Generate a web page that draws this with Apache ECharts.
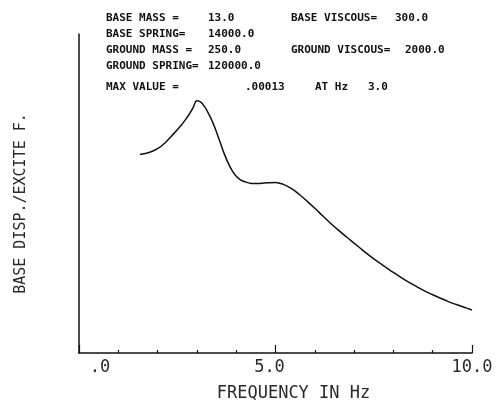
<!DOCTYPE html>
<html>
<head>
<meta charset="utf-8">
<script src="https://cdn.jsdelivr.net/npm/echarts@6/dist/echarts.min.js"></script>
<style>
  html, body { margin: 0; padding: 0; background: #fff; }
  #chart { width: 500px; height: 401px; }
</style>
</head>
<body>
<div id="chart"></div>
<script>
// Frequency response of base displacement per unit excitation force
const frequencyHz = [1.55, 1.8, 2.0, 2.2, 2.4, 2.6, 2.7, 2.8, 2.9, 3.0, 3.1, 3.2, 3.3, 3.4, 3.5,
  3.6, 3.7, 3.8, 3.9, 4.0, 4.1, 4.2,
  4.4, 4.6, 4.8, 5.0, 5.2, 5.4, 5.6, 5.8, 6.0, 6.2, 6.4, 6.6, 6.8, 7.0, 7.2, 7.4, 7.6,
  7.8, 8.0, 8.2, 8.4, 8.6, 8.8, 9.0, 9.2, 9.4, 9.6, 9.8, 10.0];
const displacement = [1.023e-4, 1.035e-4, 1.053e-4, 1.085e-4, 1.128e-4, 1.174e-4, 1.200e-4, 1.229e-4,
  1.263e-4, 1.300e-4, 1.293e-4, 1.268e-4, 1.232e-4, 1.190e-4, 1.138e-4,
  1.081e-4, 1.025e-4, 0.977e-4, 0.939e-4, 0.911e-4, 0.894e-4, 0.884e-4,
  0.874e-4, 0.874e-4, 0.877e-4, 0.879e-4, 0.869e-4, 0.848e-4, 0.818e-4, 0.783e-4,
  0.746e-4, 0.707e-4, 0.669e-4, 0.633e-4, 0.599e-4, 0.566e-4, 0.533e-4, 0.501e-4,
  0.471e-4, 0.443e-4, 0.415e-4, 0.389e-4, 0.364e-4, 0.341e-4, 0.319e-4, 0.300e-4,
  0.282e-4, 0.265e-4, 0.250e-4, 0.236e-4, 0.222e-4];

// x tick labels keyed by tick value
const xTickValues = [0, 5, 10];
const xTickLabels = ['.0', '5.0', '10.0'];

// Parameter block printed above the curve
const paramRows = [
  ['BASE MASS =', '13.0', 'BASE VISCOUS=', '300.0'],
  ['BASE SPRING=', '14000.0', '', ''],
  ['GROUND MASS =', '250.0', 'GROUND VISCOUS=', '2000.0'],
  ['GROUND SPRING=', '120000.0', '', '']
];
const maxRow = ['MAX VALUE =', '.00013', 'AT Hz', '3.0'];

const ink = '#111';
const mono = '"DejaVu Sans Mono", "Liberation Mono", monospace';
const headFont = 'bold 11px ' + mono;

const graphics = [];
const rowY = [18, 34, 50, 66];
paramRows.forEach((row, i) => {
  const xs = [106, 208, 291, 395];
  row.forEach((t, j) => {
    if (!t) return;
    let x = xs[j];
    if (j === 3 && i === 2) x = 405;
    graphics.push({
      type: 'text', x: x, y: rowY[i],
      style: { text: t, font: headFont, fill: ink, verticalAlign: 'middle' }
    });
  });
});
[106, 245, 315, 368].forEach((x, j) => {
  graphics.push({
    type: 'text', x: x, y: 87,
    style: { text: maxRow[j], font: headFont, fill: ink, verticalAlign: 'middle' }
  });
});

const labelColor = '#2a2a2a';
const chart = echarts.init(document.getElementById('chart'), null, { renderer: 'canvas' });
chart.setOption({
  animation: false,
  backgroundColor: '#fff',
  grid: { left: 79, right: 28, top: 34, bottom: 48, outerBoundsMode: 'none', containLabel: false },
  xAxis: {
    type: 'value',
    min: 0, max: 10, interval: 5,
    name: 'FREQUENCY IN Hz',
    nameLocation: 'middle',
    nameGap: 32,
    nameTextStyle: { fontFamily: mono, fontSize: 17, color: labelColor, padding: [0, 0, 0, 36] },
    axisLine: { lineStyle: { color: ink, width: 1.5 } },
    axisTick: { show: true, inside: true, length: 8, lineStyle: { color: ink, width: 1.2 } },
    minorTick: { show: true, splitNumber: 5, length: 3, lineStyle: { color: ink, width: 1.2 } },
    splitLine: { show: false },
    axisLabel: {
      margin: 6,
      fontFamily: mono, fontSize: 17, color: labelColor,
      formatter: function (v) {
        const k = xTickValues.indexOf(v);
        if (k < 0) return '';
        return '{t' + k + '|' + xTickLabels[k] + '}';
      },
      rich: {
        t0: { fontFamily: mono, fontSize: 17, color: labelColor, padding: [0, 0, 0, 42] },
        t1: { fontFamily: mono, fontSize: 17, color: labelColor, padding: [0, 12, 0, 0] },
        t2: { fontFamily: mono, fontSize: 17, color: labelColor }
      }
    }
  },
  yAxis: {
    type: 'value',
    min: 0, max: 1.644e-4,
    name: 'BASE DISP./EXCITE F.',
    nameLocation: 'middle',
    nameRotate: 90,
    nameGap: 50,
    nameTextStyle: { fontFamily: mono, fontSize: 15, color: labelColor, padding: [0, 20, 0, 0] },
    axisLine: { show: true, lineStyle: { color: ink, width: 1.5 } },
    axisTick: { show: false },
    axisLabel: { show: false },
    splitLine: { show: false }
  },
  series: [{
    type: 'line',
    data: frequencyHz.map((f, i) => [f, displacement[i]]),
    smooth: 0.4,
    showSymbol: false,
    lineStyle: { color: ink, width: 1.5 }
  }],
  graphic: graphics
});
</script>
</body>
</html>
